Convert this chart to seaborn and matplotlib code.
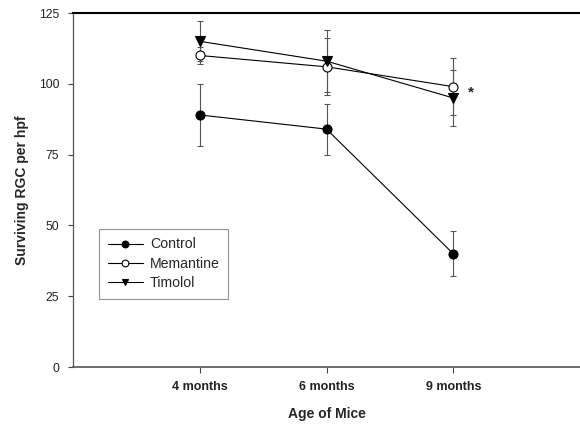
import matplotlib
matplotlib.use("Agg")
import matplotlib.pyplot as plt
import seaborn as sns
import pandas as pd

# ---- data ----
ages = ["4 months", "6 months", "9 months"]
age_pos = [1, 2, 3]
control = [89, 84, 40]
control_err = [11, 9, 8]
memantine = [110, 106, 99]
memantine_err = [3, 10, 10]
timolol = [115, 108, 95]
timolol_err = [7, 11, 10]
series_names = ["Control", "Memantine", "Timolol"]
y_ticks = [0, 25, 50, 75, 100, 125]

sns.set_theme(style="white")
plt.rcParams["font.family"] = ["Liberation Sans", "DejaVu Sans"]

fig = plt.figure(figsize=(5.8, 4.24), dpi=100)
ax = fig.add_axes([73 / 580, (424 - 367) / 424, (580 - 73) / 580, 354 / 424])

values = [control, memantine, timolol]
errs = [control_err, memantine_err, timolol_err]
markers = ["o", "o", "v"]
faces = ["black", "white", "black"]

for name, vals, err, mk, fc in zip(series_names, values, errs, markers, faces):
    df = pd.DataFrame({"age": age_pos, "value": vals})
    ax.errorbar(df["age"], df["value"], yerr=err, fmt="none", ecolor="#555555",
                elinewidth=0.8, capsize=2.5, capthick=0.8, zorder=1)
    sns.lineplot(data=df, x="age", y="value", ax=ax, color="black", linewidth=0.8,
                 marker=mk, markersize=6.5, markerfacecolor=fc,
                 markeredgecolor="black", markeredgewidth=0.8, label=name, zorder=3)

ax.text(3.12, 97, "*", fontsize=11, fontweight="bold", ha="left", va="center")

ax.set_xlim(0, 4)
ax.set_ylim(0, 125)
ax.set_yticks(y_ticks)
ax.set_yticklabels([str(t) for t in y_ticks], fontsize=8.7, color="#222222")
ax.set_xticks(age_pos)
ax.set_xticklabels(ages, fontsize=9, fontweight="bold", color="#222222")
ax.tick_params(axis="y", direction="out", length=3.5, width=0.8, color="#444444", left=True, pad=6.5)
ax.tick_params(axis="x", direction="out", length=4, width=0.8, color="#444444", bottom=True, pad=6)

ax.set_xlabel("Age of Mice", fontsize=10, fontweight="bold", labelpad=10)
ax.set_ylabel("Surviving RGC per hpf", fontsize=10, fontweight="bold", labelpad=7)

ax.spines["right"].set_visible(False)
ax.spines["top"].set_color("black")
ax.spines["top"].set_linewidth(1.5)
ax.spines["left"].set_color("#555555")
ax.spines["left"].set_linewidth(0.9)
ax.spines["bottom"].set_color("#555555")
ax.spines["bottom"].set_linewidth(1.2)

leg = ax.legend(loc="upper left", bbox_to_anchor=(26 / 507, 138 / 354), fontsize=10.2,
                frameon=True, fancybox=False, edgecolor="#777777", borderpad=0.6,
                handlelength=2.5, handletextpad=0.5, labelspacing=0.38, borderaxespad=0,
                markerscale=0.75)
leg.get_frame().set_linewidth(0.8)

fig.savefig("out.png", dpi=100)
